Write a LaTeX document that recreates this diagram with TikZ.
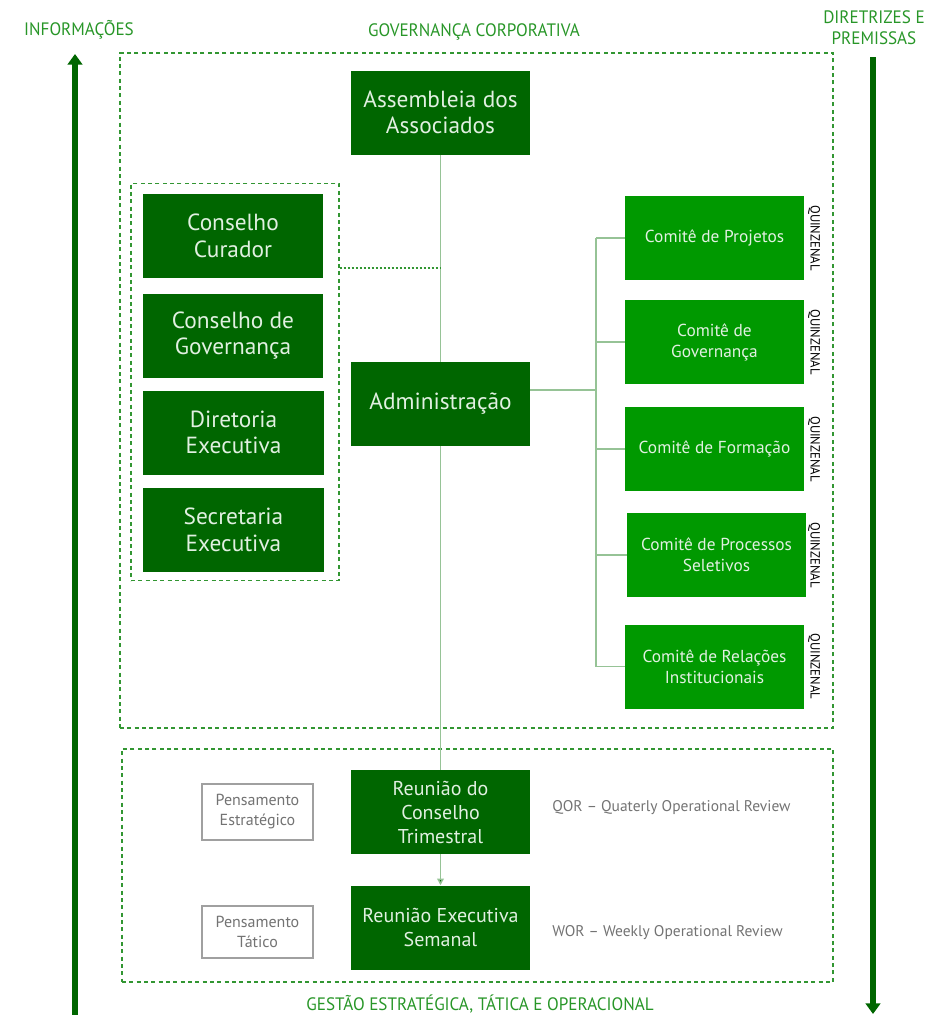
\documentclass[tikz,border=0pt]{standalone}
\usepackage{fontspec}
\setmainfont{PT Sans}
\newfontfamily\condfont[FakeStretch=0.95]{PT Sans}
\usetikzlibrary{arrows.meta,calc}
\definecolor{dkgreen}{RGB}{0,102,0}
\definecolor{brgreen}{RGB}{0,153,0}
\definecolor{hdgreen}{RGB}{40,150,40}
\definecolor{dashgreen}{RGB}{50,150,50}
\definecolor{linegreen}{RGB}{150,195,150}
\definecolor{boxtext}{RGB}{225,240,225}
\definecolor{graytxt}{RGB}{115,115,115}
\definecolor{grayline}{RGB}{160,160,160}
\begin{document}
\begin{tikzpicture}[x=0.75pt,y=-0.75pt,
  hdr/.style={text=hdgreen,font=\condfont\fontsize{13.5}{15.75}\selectfont,inner sep=0pt,align=center},
  bigbox/.style={fill=dkgreen,text=boxtext,minimum width=134.25pt,minimum height=63pt,inner sep=0pt,align=center,font=\fontsize{17.5}{20}\selectfont},
  combox/.style={fill=brgreen,text=boxtext,minimum width=134.25pt,minimum height=63pt,inner sep=0pt,align=center,font=\fontsize{13}{15.75}\selectfont},
  reubox/.style={fill=dkgreen,text=boxtext,minimum width=134.25pt,minimum height=63pt,inner sep=0pt,align=center,font=\fontsize{15}{18}\selectfont},
  penbox/.style={draw=grayline,line width=0.9pt,fill=white,text=graytxt,minimum width=83.25pt,inner sep=0pt,align=center,font=\fontsize{12}{15}\selectfont},
  quin/.style={rotate=-90,font=\condfont\fontsize{10}{11}\selectfont,text=black,inner sep=0pt},
  review/.style={anchor=west,text=graytxt,font=\fontsize{11.6}{13}\selectfont,inner sep=0pt},
  grpbox/.style={draw=dashgreen,line width=1.1pt,dash pattern=on 3pt off 2.5pt,inner sep=0pt},
  conn/.style={draw=linegreen,line width=1.1pt},
  bigarrow/.style={draw=dkgreen,line width=4.5pt,-{Triangle[width=11pt,length=8pt]}}
]
\useasboundingbox (0,0) rectangle (944,1015);

% headers
\node[hdr] (info) at (79,30) {INFORMAÇÕES};
\node[hdr] (govtitle) at (474,32) {GOVERNANÇA CORPORATIVA};
\node[hdr] (dir) at (874,28) {DIRETRIZES E\\PREMISSAS};
\node[hdr] (gesttitle) at (480,1004) {GESTÃO ESTRATÉGICA, TÁTICA E OPERACIONAL};

% side arrows
\coordinate (lbot) at (75,1015);
\coordinate (ltop) at (75,54);
\coordinate (rtop) at (873,57);
\coordinate (rbot) at (873,1014);
\draw[bigarrow] (lbot) -- (ltop);
\draw[bigarrow] (rtop) -- (rbot);

% dashed group boxes
\node[grpbox,minimum width=534.75pt,minimum height=506.25pt] (govbox) at (476.5,390.5) {};
\node[grpbox,minimum width=156pt,minimum height=297.75pt] (leftgrp) at (235,382) {};
\node[grpbox,minimum width=533.25pt,minimum height=174.75pt] (gestbox) at (477.5,865.5) {};

% main column
\node[bigbox] (assem) at (440.5,112.5) {Assembleia dos\\Associados};
\node[bigbox] (admin) at (440.5,404) {Administração};
\node[reubox] (reuc) at (440.5,812) {Reunião do\\Conselho\\Trimestral};
\node[reubox] (reue) at (440.5,927.5) {Reunião Executiva\\Semanal};

% left group
\node[bigbox,minimum width=135pt] (curador) at (233,236) {Conselho\\Curador};
\node[bigbox,minimum width=135pt] (consgov) at (233,335.5) {Conselho de\\Governança};
\node[bigbox,minimum width=135.75pt] (diret) at (233.5,432.5) {Diretoria\\Executiva};
\node[bigbox,minimum width=135.75pt] (secret) at (233.5,529.5) {Secretaria\\Executiva};

% committees
\node[combox] (cproj) at (714.5,238) {Comitê de Projetos};
\node[combox] (cgov) at (714.5,342) {Comitê de\\Governança};
\node[combox] (cform) at (714.5,449) {Comitê de Formação};
\node[combox] (cproc) at (716.5,555) {Comitê de Processos\\Seletivos};
\node[combox] (crel) at (714.5,666.5) {Comitê de Relações\\Institucionais};

\foreach \c/\dx in {cproj/0,cgov/0,cform/0,cproc/2,crel/0}{
  \node[quin] at ($(\c.east)+(10-\dx,0)$) {QUINZENAL};
}

% connectors
\draw[conn] (assem.south) -- (admin.north);
\draw[conn] (admin.south) -- (reuc.north);
\draw[draw=linegreen,line width=1.1pt,-{Triangle[width=5pt,length=5pt,fill=dkgreen]}] (reuc.south) -- (reue.north);
\coordinate (bus) at (596,390);
\draw[conn] (admin.east |- bus) -- (bus);
\draw[conn] (bus |- cproj.west) -- (bus |- crel.west);
\foreach \c in {cproj,cgov,cform,cproc,crel}{
  \draw[conn] (bus |- \c.west) -- (\c.west);
}
\coordinate (dotend) at (441,268);
\draw[draw=dashgreen,line width=0.9pt,dash pattern=on 1.5pt off 1.5pt] (leftgrp.east |- dotend) -- (dotend);

% bottom section side boxes and reviews
\node[penbox,minimum height=42pt] (pest) at (257.5,812) {Pensamento\\Estratégico};
\node[penbox,minimum height=39pt] (ptat) at (257.5,932) {Pensamento\\Tático};
\node[review] (qor) at (552,808) {QOR – Quaterly Operational Review};
\node[review] (wor) at (552,933) {WOR – Weekly Operational Review};
\end{tikzpicture}
\end{document}
